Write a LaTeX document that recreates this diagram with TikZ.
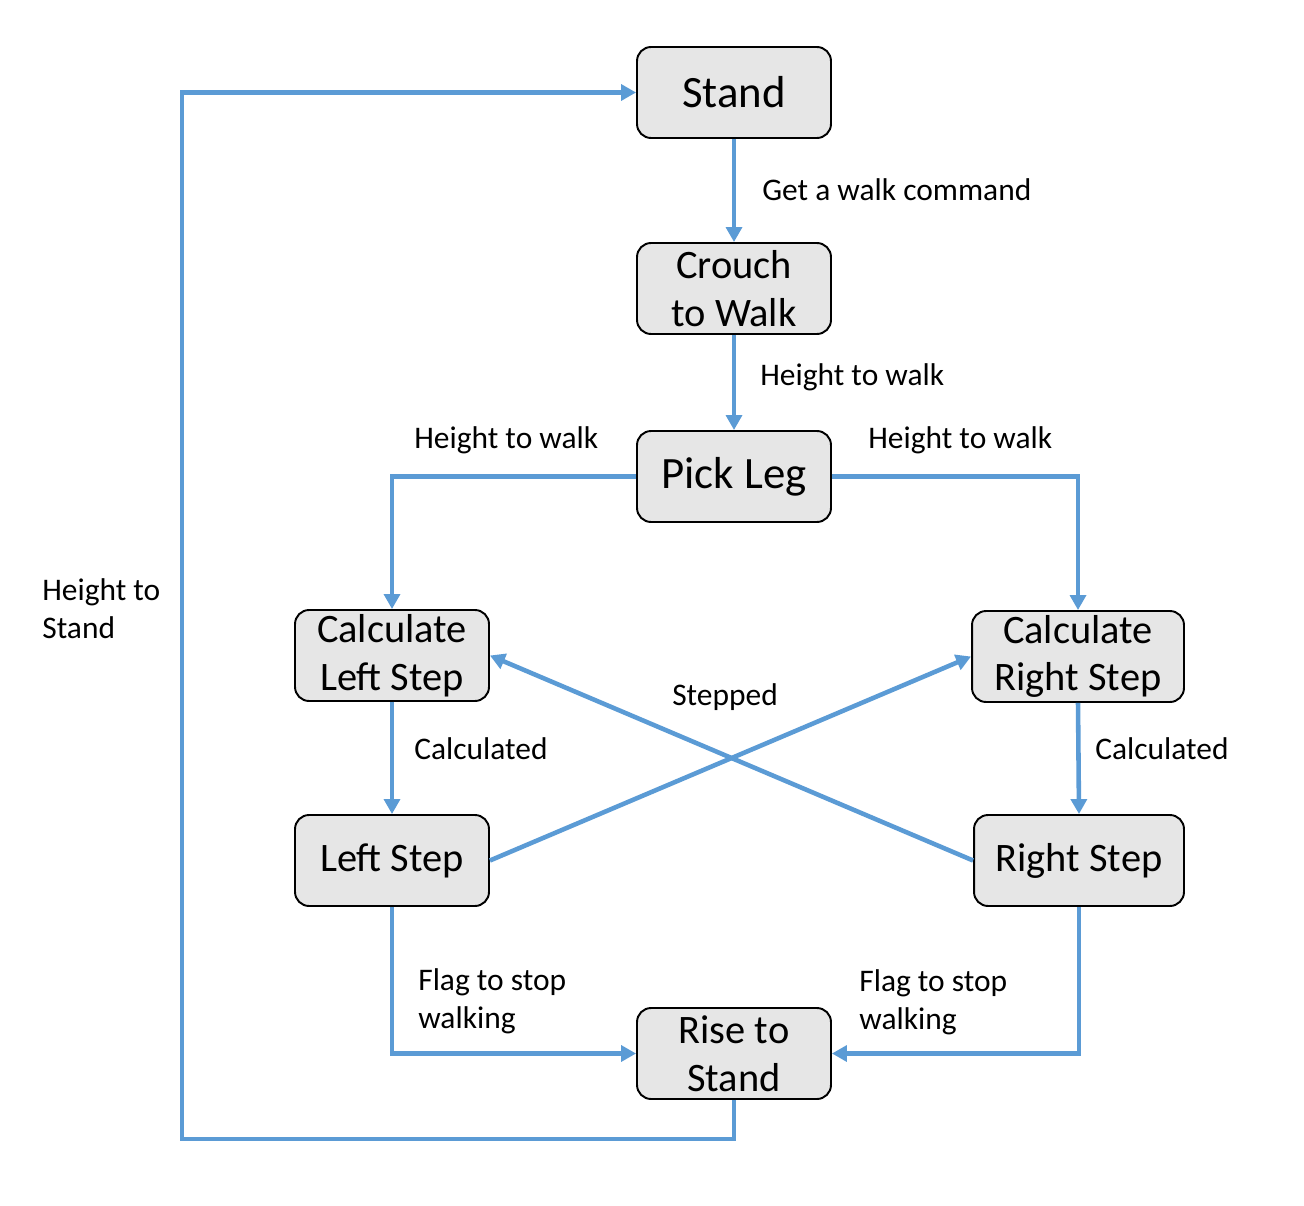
\documentclass[tikz,border=0pt]{standalone}
\usepackage{fontspec}
\setmainfont{Carlito}
\usepackage{xcolor}
\usetikzlibrary{arrows.meta, positioning, calc}
\definecolor{linkblue}{HTML}{5B9BD5}
\definecolor{boxgrey}{HTML}{E6E6E6}
\tikzstyle{state} = [draw=black, line width=1.1pt, fill=boxgrey, rounded corners=8pt, align=center, inner sep=0pt, minimum width=3.88cm, minimum height=1.82cm, font=\fontsize{23}{27.2}\selectfont]
\tikzstyle{bigstate} = [state, font=\fontsize{25.5}{30}\selectfont]
\tikzstyle{trans} = [draw=linkblue, line width=2.6pt, -{Triangle[width=9pt,length=8.5pt]}]
\tikzstyle{cond} = [anchor=west, align=left, inner sep=0pt, font=\fontsize{17.9}{21.5}\selectfont]

\begin{document}
\begin{tikzpicture}[x=0.02cm,y=-0.02cm]
        \useasboundingbox (0,0) rectangle (1304,1206);
        \node (stand) [bigstate] at (734,92.5) {Stand};
        \node (crouch) [state] at (734,288.5) {Crouch\\to Walk};
        \node (pick) [bigstate] at (734,476.5) {Pick Leg};
        \node (calcl) [state] at (392,655.5) {Calculate\\Left Step};
        \node (calcr) [state,minimum width=4.24cm] at (1078,656.5) {Calculate\\Right Step};
        \node (lstep) [state] at (392,860.5) {Left Step};
        \node (rstep) [state,minimum width=4.2cm] at (1079,860.5) {Right Step};
        \node (rise) [state] at (734,1053.5) {Rise to\\Stand};
        \coordinate (back) at (182,1139);

        \draw [trans] (stand) -- (crouch);
        \draw [trans] (crouch) -- (pick);
        \draw [trans] (pick.west) -| (calcl.north);
        \draw [trans] (pick.east) -| (calcr.north);
        \draw [trans] (calcl) -- (lstep);
        \draw [trans] (calcr.south) -- (rstep.north);
        \draw [trans] (lstep.east) -- (calcr.west);
        \draw [trans] (rstep.west) -- (calcl.east);
        \draw [trans] (lstep.south) |- (rise.west);
        \draw [trans] (rstep.south) |- (rise.east);
        \draw [trans] (rise.south) |- (back) |- (stand.west);

        \node (l1) [cond] at (762,190) {Get a walk command};
        \node (l2) [cond] at (760,377) {Height to walk};
        \node (l3) [cond] at (414,440) {Height to walk};
        \node (l4) [cond] at (868,440) {Height to walk};
        \node (l5) [cond] at (414,749) {Calculated};
        \node (l6) [cond] at (1095,749) {Calculated};
        \node (l7) [cond,anchor=center] at (725,697) {Stepped};
        \node (l8) [cond] at (418,1001) {Flag to stop\\walking};
        \node (l9) [cond] at (859,1002) {Flag to stop\\walking};
        \node (l10) [cond] at (42,609) {Height to\\Stand};
\end{tikzpicture}
\end{document}
